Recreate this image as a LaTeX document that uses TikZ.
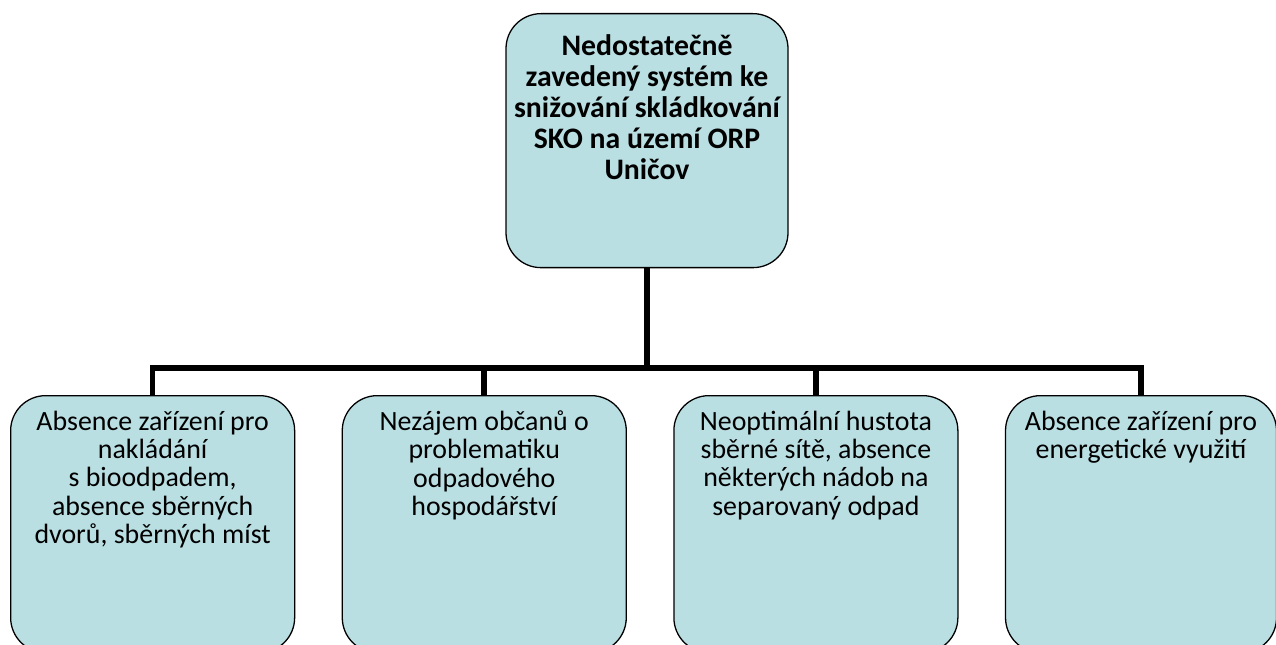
\documentclass[tikz,border=0pt]{standalone}
\usepackage{fontspec}
\setmainfont{Carlito}
\usetikzlibrary{positioning}
\definecolor{boxcolor}{RGB}{186,223,227}
\newcommand{\boxbody}[3]{\parbox[c][#1][t]{#2}{\centering #3}}

\begin{document}
\begin{tikzpicture}[
    cause/.style={rectangle, draw, fill=boxcolor, line width=1.1pt, rounded corners=1.05cm, inner xsep=0.15cm, inner ysep=0.45cm, font=\fontsize{23.8}{24.2}\selectfont},
    problem/.style={cause, inner ysep=0.62cm, font=\bfseries\fontsize{25.4}{26.5}\selectfont},
    link/.style={line width=4.8pt},
    node distance=1.39cm
]
    \useasboundingbox (0,0) rectangle (38.28,-19.35);
    \clip (0,0) rectangle (38.28,-19.35);

    % Main problem
    \node[problem, anchor=north] (top) at (19.41,-0.39) {\boxbody{6.38cm}{8.16cm}{Nedostatečně\\ zavedený systém ke\\ snižování skládkování\\ SKO na území ORP\\ Uničov}};

    % Causes
    \node[cause, anchor=north west] (b1) at (0.3,-11.85) {\boxbody{6.81cm}{8.22cm}{Absence zařízení pro\\ nakládání\\ s~bioodpadem,\\ absence sběrných\\ dvorů, sběrných míst}};
    \node[cause, right=of b1] (b2) {\boxbody{6.81cm}{8.22cm}{Nezájem občanů o\\ problematiku\\ odpadového\\ hospodářství}};
    \node[cause, right=of b2] (b3) {\boxbody{6.81cm}{8.22cm}{Neoptimální hustota\\ sběrné sítě, absence\\ některých nádob na\\ separovaný odpad}};
    \node[cause, right=of b3] (b4) {\boxbody{6.81cm}{7.83cm}{Absence zařízení pro\\ energetické využití}};

    % Connectors
    \coordinate (bus) at (0,-11.04);
    \draw[link] (top.south) -- (top.south |- bus);
    \draw[link] (b1.north) |- (b4.north |- bus) -- (b4.north);
    \foreach \b in {b2,b3}
        \draw[link] (\b.north) -- (\b.north |- bus);

\end{tikzpicture}
\end{document}
